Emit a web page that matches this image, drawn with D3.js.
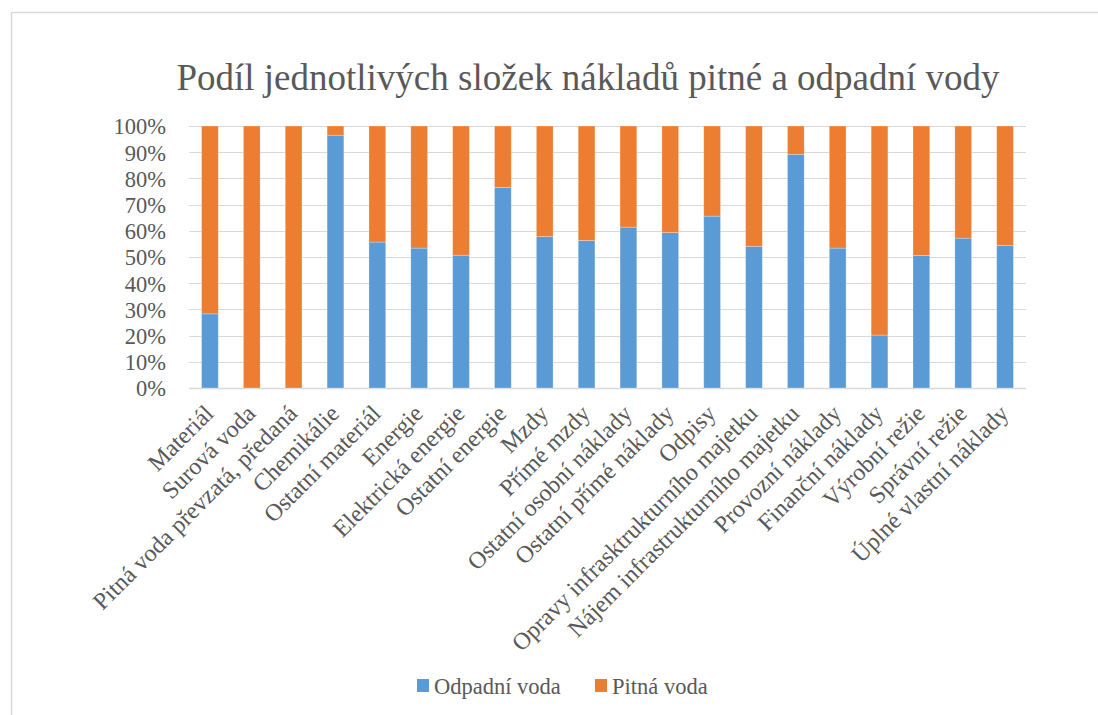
<!DOCTYPE html>
<html>
<head>
<meta charset="utf-8">
<script src="https://cdn.jsdelivr.net/npm/d3@7"></script>
<style>
	html, body { margin: 0; padding: 0; background: #fff; }
	#chart { width: 1098px; height: 715px; }
	text { font-family: "Liberation Serif", "Times New Roman", serif; fill: #595959; }
</style>
</head>
<body>
<div id="chart"></div>
<script>
'use strict';

var categories = [
	'Materiál', 'Surová voda', 'Pitná voda převzatá, předaná', 'Chemikálie',
	'Ostatní materiál', 'Energie', 'Elektrická energie', 'Ostatní energie',
	'Mzdy', 'Přímé mzdy', 'Ostatní osobní náklady', 'Ostatní přímé náklady',
	'Odpisy', 'Opravy infrasktrukturního majetku', 'Nájem infrastrukturního majetku',
	'Provozní náklady', 'Finanční náklady', 'Výrobní režie', 'Správní režie',
	'Úplné vlastní náklady'
];

// podíl odpadní vody v procentech
var odpadni = [28.3, 0, 0, 96.5, 55.7, 53.4, 50.7, 76.6, 57.8, 56.3,
	61.4, 59.3, 65.6, 54.1, 89.2, 53.4, 20.2, 50.6, 57.2, 54.4];
// podíl pitné vody v procentech
var pitna = [71.7, 100, 100, 3.5, 44.3, 46.6, 49.3, 23.4, 42.2, 43.7,
	38.6, 40.7, 34.4, 45.9, 10.8, 46.6, 79.8, 49.4, 42.8, 45.6];

var seriesNames = ['Odpadní voda', 'Pitná voda'];
var colors = ['#5b9bd5', '#ed7d31'];
var yTicks = [0, 10, 20, 30, 40, 50, 60, 70, 80, 90, 100];

var el = document.getElementById('chart');
var margin = {top: 126, right: 72, bottom: 327, left: 189};
var width = 1098 - margin.left - margin.right;
var height = 715 - margin.top - margin.bottom;

var svg = d3.select(el).append('svg')
	.attr('width', 1098)
	.attr('height', 715);

// rámeček grafu
svg.append('rect')
	.attr('x', 11.5).attr('y', 12.5)
	.attr('width', 1200).attr('height', 800)
	.attr('fill', 'none')
	.attr('stroke', '#d9d9d9')
	.attr('stroke-width', 1.5);

svg.append('text')
	.attr('x', 588)
	.attr('y', 90)
	.attr('text-anchor', 'middle')
	.style('font-size', '37px')
	.text('Podíl jednotlivých složek nákladů pitné a odpadní vody');

var g = svg.append('g')
	.attr('transform', 'translate(' + margin.left + ',' + margin.top + ')');

var x = d3.scaleBand().domain(categories).range([0, width]).paddingInner(0.6).paddingOuter(0.3);
var y = d3.scaleLinear().domain([0, 100]).range([height, 0]);

// mřížka
g.append('g')
	.selectAll('line')
	.data(yTicks)
	.enter().append('line')
		.attr('x1', 0).attr('x2', width)
		.attr('y1', function(d){ return Math.round(y(d)) + 0.5; })
		.attr('y2', function(d){ return Math.round(y(d)) + 0.5; })
		.attr('stroke', '#d9d9d9')
		.attr('stroke-width', function(d){ return d === 0 ? 1.5 : 1; });

var yAxis = g.append('g')
	.call(d3.axisLeft(y).tickValues(yTicks).tickSize(0).tickPadding(23).tickFormat(function(d){ return d + '%'; }));
yAxis.select('.domain').remove();
yAxis.selectAll('text')
	.style('font-size', '22.5px')
	.attr('dy', '0.35em');

var rows = categories.map(function(c, i){
	return {cat: c, 'Odpadní voda': odpadni[i], 'Pitná voda': pitna[i]};
});
var stacked = d3.stack().keys(seriesNames)(rows);

g.selectAll('.series')
	.data(stacked)
	.enter().append('g')
		.attr('class', 'series')
		.attr('fill', function(d, i){ return colors[i]; })
	.selectAll('rect')
	.data(function(d){ return d; })
	.enter().append('rect')
		.attr('x', function(d){ return x(d.data.cat); })
		.attr('width', x.bandwidth())
		.attr('y', function(d){ return y(d[1]); })
		.attr('height', function(d){ return y(d[0]) - y(d[1]); })
		.attr('stroke', 'rgba(255,255,255,0.35)')
		.attr('stroke-width', 0.75);

// popisky kategorií
g.append('g')
	.selectAll('text')
	.data(categories)
	.enter().append('text')
		.attr('text-anchor', 'end')
		.attr('transform', function(d){
			return 'translate(' + (x(d) + x.bandwidth() / 2 + 5) + ',' + (height + 27) + ') rotate(-45)';
		})
		.style('font-size', '24px')
		.text(function(d){ return d; });

// legenda
var legend = svg.append('g').attr('transform', 'translate(417,686)');
var items = legend.selectAll('g')
	.data(seriesNames)
	.enter().append('g')
		.attr('transform', function(d, i){ return 'translate(' + (i * 178) + ',0)'; });
items.append('rect')
	.attr('x', 0).attr('y', -7)
	.attr('width', 12).attr('height', 13)
	.attr('fill', function(d, i){ return colors[i]; });
items.append('text')
	.attr('x', 17).attr('y', 0)
	.attr('dy', '0.35em')
	.style('font-size', '22.5px')
	.text(function(d){ return d; });
</script>
</body>
</html>
